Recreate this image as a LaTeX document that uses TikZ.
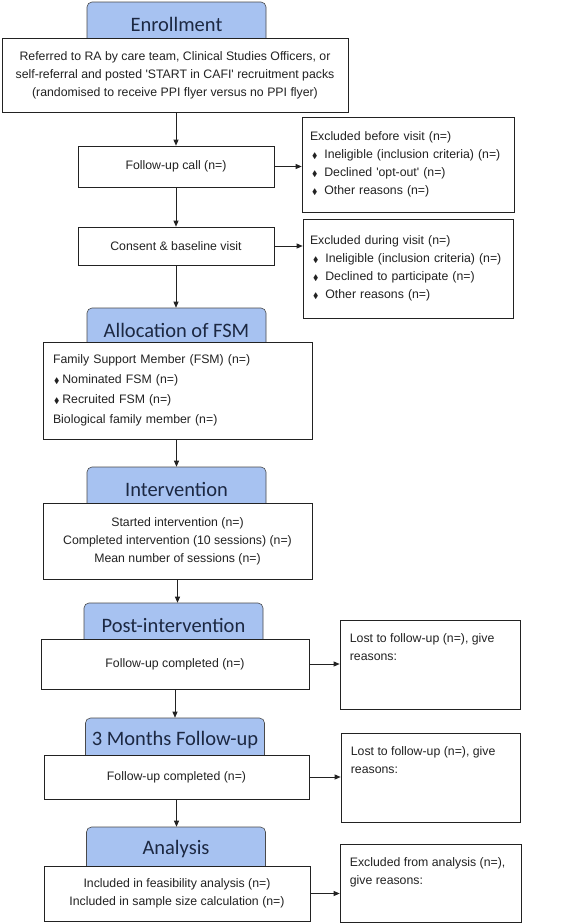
\documentclass[tikz,border=0pt]{standalone}
\usepackage{amssymb}
\usepackage{fontspec}
\setmainfont{Liberation Sans}
\newfontfamily\headfont{Carlito}
\usepackage{tikz}
\usetikzlibrary{arrows.meta}

\definecolor{headblue}{HTML}{A7C2F1}
\definecolor{headtext}{HTML}{1C2842}
\definecolor{edgegray}{HTML}{4A4A4A}
\definecolor{inkgray}{HTML}{222222}

\newcommand{\bul}{{\fontsize{8}{8}\selectfont$\blacklozenge$}}

\begin{document}
\begin{tikzpicture}[x=1pt, y=-1pt,
    head/.style={draw=edgegray, line width=.6pt, fill=headblue, rounded corners=5pt,
        minimum width=179pt, minimum height=44pt, inner sep=0pt,
        font=\headfont\fontsize{20.5}{20.5}\selectfont, text=headtext},
    box/.style={draw=inkgray, line width=.7pt, fill=white, inner sep=0pt, align=center,
        font=\fontsize{12.3}{18}\selectfont, text=inkgray},
    txt/.style={inner sep=0pt, align=left, font=\fontsize{12.3}{18}\selectfont, text=inkgray},
    arr/.style={-{Triangle[length=6pt, width=5pt]}, line width=.7pt, inkgray}]
    \useasboundingbox[fill=white] (0,0) rectangle (567,924);

    \node[head] (enrollhd) at (176.5,24) {Enrollment};
    \node[head] (allochd) at (176.5,330) {Allocation of FSM};
    \node[head] (intervhd) at (176.5,489) {Intervention};
    \node[head] (posthd) at (173.5,625) {Post-intervention};
    \node[head] (fuhd) at (175,740) {3 Months Follow-up};
    \node[head] (analhd) at (176,849) {Analysis};

    \node[box, minimum width=346pt, minimum height=74pt] (refer) at (175,75)
        {Referred to RA by care team, Clinical Studies Officers, or\\
         self-referral and posted \textquotesingle START in CAFI\textquotesingle\ recruitment packs\\
         (randomised to receive PPI flyer versus no PPI flyer)};
    \node[box, minimum width=196pt, minimum height=41pt] (followup) at (176,166.5) {Follow-up call (n=)};
    \node[box, align=left, text width=196pt, inner xsep=8pt, minimum width=212pt, minimum height=95pt] (exbefore) at (408,164.5)
        {Excluded before visit (n=)\\
         \hspace*{2pt}\bul\hspace{7pt}Ineligible (inclusion criteria) (n=)\\
         \hspace*{2pt}\bul\hspace{7pt}Declined \textquotesingle opt-out\textquotesingle\ (n=)\\
         \hspace*{2pt}\bul\hspace{7pt}Other reasons (n=)};
    \node[box, minimum width=196pt, minimum height=38pt] (consent) at (176,246) {Consent \& baseline visit};
    \node[box, align=left, text width=196pt, inner xsep=7pt, minimum width=210pt, minimum height=99pt] (exduring) at (408,268.5)
        {Excluded during visit (n=)\\
         \hspace*{3pt}\bul\hspace{7pt}Ineligible (inclusion criteria) (n=)\\
         \hspace*{3pt}\bul\hspace{7pt}Declined to participate (n=)\\
         \hspace*{3pt}\bul\hspace{7pt}Other reasons (n=)};

    \node[box, align=left, text width=249pt, inner xsep=10pt, minimum width=269pt, minimum height=97pt,
        font=\fontsize{12.3}{20}\selectfont] (fsm) at (177.5,390.5)
        {Family Support Member (FSM) (n=)\\
         \hspace*{1pt}\bul\hspace{3pt}Nominated FSM (n=)\\
         \hspace*{1pt}\bul\hspace{3pt}Recruited FSM (n=)\\
         Biological family member (n=)};

    \node[box, minimum width=269pt, minimum height=76pt] (interv) at (177.5,541)
        {Started intervention (n=)\\
         Completed intervention (10 sessions) (n=)\\
         Mean number of sessions (n=)};

    \node[box, minimum width=268pt, minimum height=50pt] (post) at (175,664) {Follow-up completed (n=)};
    \node[box, minimum width=180pt, minimum height=89pt] (lost1) at (430,664.5) {};
    \node[txt, anchor=north west] (lost1txt) at ([xshift=10pt, yshift=-14pt]lost1.north west)
        {Lost to follow-up (n=), give\\reasons:};

    \node[box, minimum width=265pt, minimum height=44pt] (fu) at (176.5,777) {Follow-up completed (n=)};
    \node[box, minimum width=179pt, minimum height=89pt] (lost2) at (430.5,777.5) {};
    \node[txt, anchor=north west] (lost2txt) at ([xshift=10pt, yshift=-14pt]lost2.north west)
        {Lost to follow-up (n=), give\\reasons:};

    \node[box, minimum width=266pt, minimum height=55pt] (anal) at (177,893.5)
        {Included in feasibility analysis (n=)\\
         Included in sample size calculation (n=)};
    \node[box, minimum width=181pt, minimum height=78pt] (exanal) at (430.5,883) {};
    \node[txt, anchor=north west] (exanaltxt) at ([xshift=10pt, yshift=-14pt]exanal.north west)
        {Excluded from analysis (n=),\\give reasons:};

    \draw[arr] (followup.north |- refer.south) -- (followup.north);
    \draw[arr] (followup.east) -- (followup.east -| exbefore.west);
    \draw[arr] (followup.south) -- (followup.south |- consent.north);
    \draw[arr] (consent.east) -- (consent.east -| exduring.west);
    \draw[arr] (consent.south) -- (consent.south |- allochd.north);
    \draw[arr] (intervhd.north |- fsm.south) -- (intervhd.north);
    \draw[arr] (interv.south) -- (interv.south |- posthd.north);
    \draw[arr] (post.east) -- (post.east -| lost1.west);
    \draw[arr] (post.south) -- (post.south |- fuhd.north);
    \draw[arr] (fu.east) -- (fu.east -| lost2.west);
    \draw[arr] (fu.south) -- (fu.south |- analhd.north);
    \draw[arr] (anal.east) -- (anal.east -| exanal.west);
\end{tikzpicture}
\end{document}
